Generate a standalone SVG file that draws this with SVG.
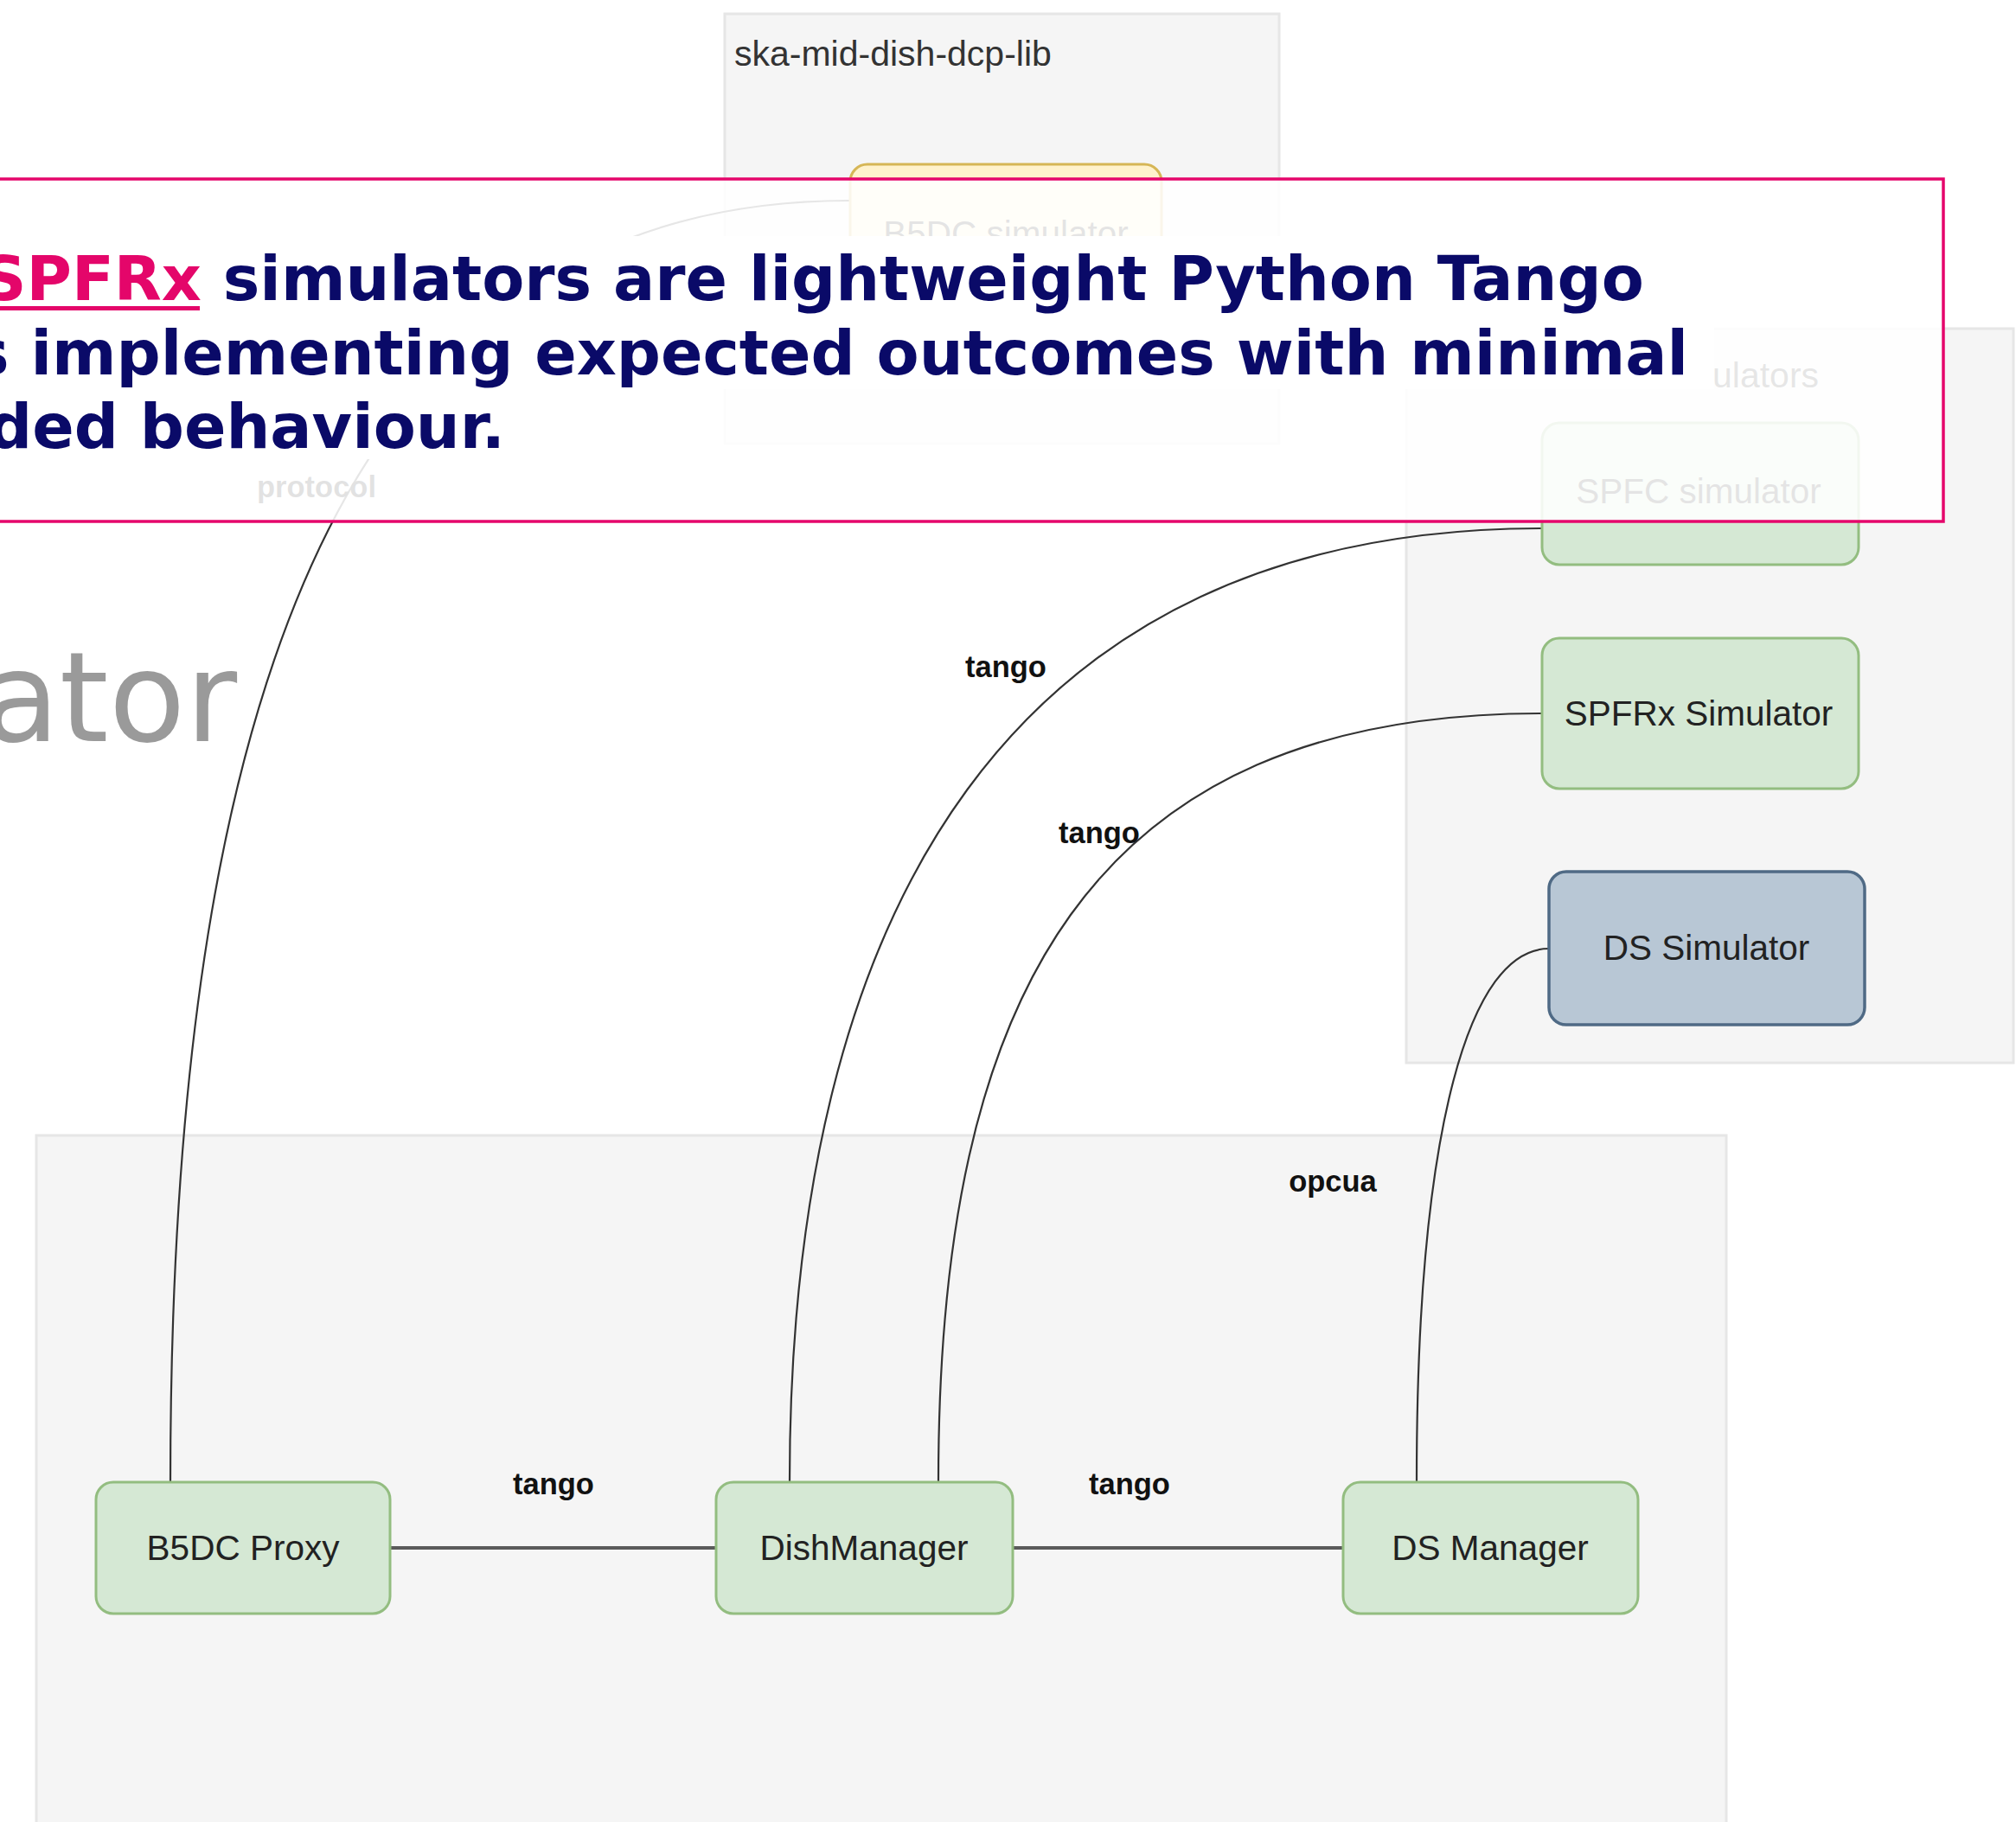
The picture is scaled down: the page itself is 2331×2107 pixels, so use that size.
<svg xmlns="http://www.w3.org/2000/svg" width="2331" height="2107" viewBox="0 0 2331 2107">
  <style>
    .container { fill: #f5f5f5; stroke: #e6e6e6; stroke-width: 3; }
    .clabel { font-family: "Liberation Sans", Arial, sans-serif; font-size: 41px; fill: #333333; }
    .green { fill: #d5e8d4; stroke: #93bd80; stroke-width: 3; }
    .yellow { fill: #fff2cc; stroke: #d6b656; stroke-width: 3; }
    .blue { fill: #b8c7d5; stroke: #4f6a85; stroke-width: 3.5; }
    .ntext { font-family: "Liberation Sans", Arial, sans-serif; font-size: 40.5px; fill: #222222; text-anchor: middle; }
    .elabel { font-family: "Liberation Sans", Arial, sans-serif; font-size: 34.5px; font-weight: bold; fill: #111111; text-anchor: middle; }
    .curve { fill: none; stroke: #333333; stroke-width: 2.2; }
    .straight { fill: none; stroke: #5a5a5a; stroke-width: 4; }
    .callout { font-family: "DejaVu Sans", Verdana, sans-serif; font-size: 71.5px; font-weight: bold; fill: #0a0a68; }
  </style>

  <rect x="0" y="0" width="2331" height="2107" fill="#ffffff"/>

  <!-- containers -->
  <g id="container-dcp-lib">
    <rect class="container" x="838" y="16" width="641" height="497"/>
    <text class="clabel" x="849" y="76">ska-mid-dish-dcp-lib</text>
  </g>
  <g id="container-simulators">
    <rect class="container" x="1626" y="380" width="702" height="849"/>
    <text class="clabel" x="1980" y="448">ulators</text>
  </g>
  <g id="container-bottom">
    <rect class="container" x="42" y="1313" width="1954" height="830"/>
  </g>

  <!-- connectors -->
  <g id="connectors">
    <path class="curve" d="M982,232 C450,232 197,700 197,1714"/>
    <path class="curve" d="M1783,611 C1170,611 913,1050 913,1714"/>
    <path class="curve" d="M1783,825 C1260,825 1085,1150 1085,1714"/>
    <path class="curve" d="M1791,1097 C1700,1097 1638,1300 1638,1714"/>
    <path class="straight" d="M451,1790 L828,1790"/>
    <path class="straight" d="M1171,1790 L1553,1790"/>
    <text class="elabel" x="366" y="575">protocol</text>
    <text class="elabel" x="1163" y="783">tango</text>
    <text class="elabel" x="1271" y="975">tango</text>
    <text class="elabel" x="1541" y="1378">opcua</text>
    <text class="elabel" x="640" y="1728">tango</text>
    <text class="elabel" x="1306" y="1728">tango</text>
  </g>

  <!-- nodes -->
  <g id="node-b5dc-simulator">
    <rect class="yellow" x="983" y="190" width="360" height="162" rx="20"/>
    <text class="ntext" x="1163" y="284">B5DC simulator</text>
  </g>
  <g id="node-spfc-simulator">
    <rect class="green" x="1783" y="489" width="366" height="164" rx="20"/>
    <text class="ntext" x="1964" y="582">SPFC simulator</text>
  </g>
  <g id="node-spfrx-simulator">
    <rect class="green" x="1783" y="738" width="366" height="174" rx="20"/>
    <text class="ntext" x="1964" y="839">SPFRx Simulator</text>
  </g>
  <g id="node-ds-simulator">
    <rect class="blue" x="1791" y="1008" width="365" height="177" rx="20"/>
    <text class="ntext" x="1973" y="1110">DS Simulator</text>
  </g>
  <g id="node-b5dc-proxy">
    <rect class="green" x="111" y="1714" width="340" height="152" rx="20"/>
    <text class="ntext" x="281" y="1804">B5DC Proxy</text>
  </g>
  <g id="node-dishmanager">
    <rect class="green" x="828" y="1714" width="343" height="152" rx="20"/>
    <text class="ntext" x="999" y="1804">DishManager</text>
  </g>
  <g id="node-ds-manager">
    <rect class="green" x="1553" y="1714" width="341" height="152" rx="20"/>
    <text class="ntext" x="1723" y="1804">DS Manager</text>
  </g>

  <!-- slide title fragment -->
  <text x="-20" y="857" font-family="'DejaVu Sans', Verdana, sans-serif" font-size="145" fill="#9a9a9a">ator</text>

  <!-- callout overlay -->
  <g id="callout">
    <rect x="-20" y="207" width="2267" height="396" fill="#ffffff" fill-opacity="0.88" stroke="#e5066b" stroke-width="3.5"/>
    <rect x="-10" y="273" width="1940" height="88" fill="#ffffff"/>
    <rect x="-10" y="360" width="1992" height="90" fill="#ffffff"/>
    <rect x="-10" y="449" width="610" height="82" fill="#ffffff"/>
    <text class="callout" x="-21" y="347"><tspan fill="#e4066a">SPFRx</tspan> simulators are lightweight Python Tango</text>
    <rect x="-10" y="354" width="241" height="5" fill="#e4066a"/>
    <text class="callout" x="-32" y="433">s implementing expected outcomes with minimal</text>
    <text class="callout" x="-14" y="518">ded behaviour.</text>
  </g>
</svg>
